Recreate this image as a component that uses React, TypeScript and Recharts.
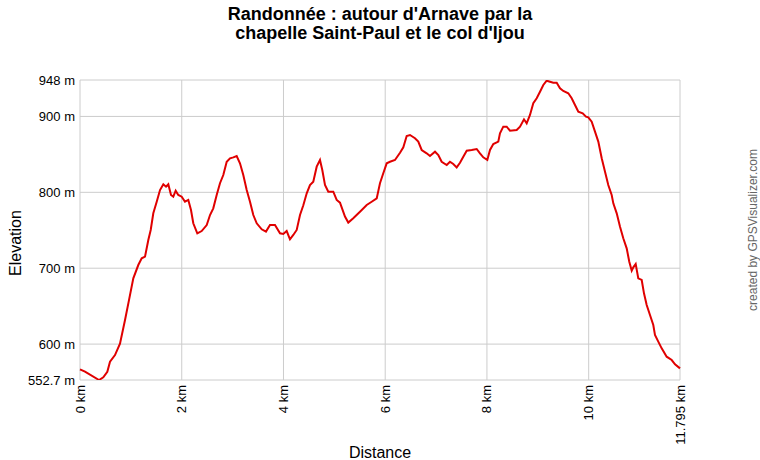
import { LineChart, Line, XAxis, YAxis, CartesianGrid } from "recharts";

// distance along the track (km) and elevation (m)
const distanceKm = [
	0, 0.098, 0.374, 0.458, 0.537, 0.59, 0.688, 0.786, 0.885, 0.963,
	1.048, 1.146, 1.213, 1.278, 1.343, 1.39, 1.441, 1.508, 1.573, 1.638,
	1.691, 1.736, 1.789, 1.834, 1.881, 1.932, 1.999, 2.064, 2.129, 2.182,
	2.227, 2.306, 2.392, 2.491, 2.556, 2.62, 2.687, 2.752, 2.817, 2.884,
	2.949, 3.014, 3.08, 3.145, 3.21, 3.277, 3.342, 3.407, 3.474, 3.572,
	3.656, 3.735, 3.833, 3.932, 3.996, 4.063, 4.128, 4.193, 4.26, 4.325,
	4.39, 4.457, 4.521, 4.586, 4.653, 4.718, 4.763, 4.816, 4.881, 4.979,
	5.046, 5.111, 5.209, 5.274, 5.372, 5.504, 5.636, 5.734, 5.833, 5.897,
	5.962, 6.029, 6.094, 6.192, 6.291, 6.356, 6.422, 6.487, 6.585, 6.65,
	6.717, 6.815, 6.88, 6.979, 7.044, 7.11, 7.209, 7.273, 7.338, 7.405,
	7.47, 7.535, 7.602, 7.7, 7.798, 7.863, 7.928, 8.007, 8.06, 8.125,
	8.223, 8.256, 8.321, 8.388, 8.453, 8.585, 8.65, 8.728, 8.781, 8.846,
	8.911, 8.978, 9.043, 9.108, 9.174, 9.239, 9.304, 9.371, 9.436, 9.501,
	9.599, 9.666, 9.731, 9.796, 9.882, 9.947, 9.992, 10.059, 10.124, 10.189,
	10.256, 10.321, 10.385, 10.452, 10.484, 10.551, 10.616, 10.68, 10.747, 10.798,
	10.846, 10.877, 10.924, 10.975, 11.042, 11.087, 11.14, 11.205, 11.27, 11.303,
	11.368, 11.435, 11.533, 11.632, 11.697, 11.795,
];

const elevationM = [
	566.8, 563.7, 552.7, 556.2, 563.6, 576.8, 585.6, 600.6, 631.7, 658,
	686.7, 704.2, 713, 715.2, 737.2, 750.4, 772.3, 787.6, 803, 810.5,
	807.4, 810.5, 796.5, 794.2, 802.1, 796.5, 794.2, 787.6, 789.9, 776.7,
	759.2, 746, 749, 756.9, 770.1, 778.9, 796.5, 812, 822.8, 840.3,
	844.8, 846.1, 847.9, 838.2, 822.8, 803, 787.6, 770.1, 759.2, 751.3,
	748.2, 756.9, 756.9, 746, 745.1, 749, 738.1, 743.8, 750.4, 770.1,
	783, 798.7, 809.6, 814, 833.8, 842.6, 829.4, 809.6, 800.8, 800.8,
	789.9, 786.4, 768, 760.1, 765.8, 774.5, 783.3, 787.6, 792, 812,
	825.1, 838.2, 840.3, 842.6, 852.2, 859.3, 874.2, 875.5, 871.2, 866.8,
	855.8, 851.4, 847.9, 853.5, 849.2, 840.3, 836, 840.3, 837.3, 832.9,
	839, 846.9, 854.9, 855.8, 857.1, 851.4, 846.1, 842.6, 855.8, 863.7,
	866.8, 877.8, 886.5, 886.5, 881.2, 882.1, 886.5, 896.2, 890.9, 901.9,
	917.3, 923.9, 932.6, 941.4, 947.1, 945.8, 944.5, 944.5, 937.1, 933.5,
	930.5, 923.9, 915.1, 906.2, 904.1, 899.7, 898.8, 893, 879.9, 866.8,
	844.8, 827.2, 809.6, 796.5, 785.5, 772.3, 754.7, 739.4, 726.2, 708.6,
	696.8, 701.2, 705.5, 686.7, 684.5, 666.9, 651.5, 638.3, 625.2, 612,
	603.2, 594.4, 583.4, 579, 573.4, 568,
];

const xTicks = [0, 2, 4, 6, 8, 10, 11.795];
const yTicks = [552.7, 600, 700, 800, 900, 948];

const data = distanceKm.map((km, i) => ({ km, ele: elevationM[i] }));

const font = "'Liberation Sans', Arial, sans-serif";

function XTick({ x, y, payload }: any) {
	return (
		<text
			x={x}
			y={y}
			transform={`rotate(-90 ${x} ${y})`}
			textAnchor="end"
			dy="0.35em"
			fontSize={13}
			fontFamily={font}
			fill="#000"
		>
			{`${payload.value} km`}
		</text>
	);
}

export default function App() {
	return (
		<div style={{ position: "absolute", left: 0, top: 0, width: 760, height: 460, background: "#fff" }}>
			<LineChart width={760} height={460} data={data} margin={{ top: 80, right: 80, bottom: 0, left: 0 }}>
				<CartesianGrid stroke="#cccccc" />
				<XAxis
					dataKey="km"
					type="number"
					domain={[0, 11.795]}
					ticks={xTicks}
					height={80}
					axisLine={false}
					tickLine={false}
					tickSize={0}
					tickMargin={5}
					tick={<XTick />}
					interval={0}
				/>
				<YAxis
					type="number"
					domain={[552.7, 948]}
					ticks={yTicks}
					width={80}
					allowDataOverflow
					axisLine={false}
					tickLine={false}
					tickSize={0}
					tickMargin={5}
					interval={0}
					tickFormatter={(v) => `${v} m`}
					tick={{ fontSize: 13, fontFamily: font, fill: "#000" }}
				/>
				<Line
					dataKey="ele"
					type="linear"
					stroke="#e00000"
					strokeWidth={2}
					dot={false}
					isAnimationActive={false}
				/>
			</LineChart>
			<svg width={760} height={460} style={{ position: "absolute", left: 0, top: 0, pointerEvents: "none" }}>
				<text x={380} y={20} textAnchor="middle" fontSize={18} fontWeight="bold" fontFamily={font}>
					Randonnée : autour d'Arnave par la
				</text>
				<text x={380} y={39} textAnchor="middle" fontSize={18} fontWeight="bold" fontFamily={font}>
					chapelle Saint-Paul et le col d'Ijou
				</text>
				<text x={380} y={458} textAnchor="middle" fontSize={16} fontFamily={font}>
					Distance
				</text>
				<text x={21} y={243} textAnchor="middle" fontSize={16} fontFamily={font} transform="rotate(-90 21 243)">
					Elevation
				</text>
				<text x={757} y={230} textAnchor="middle" fontSize={12} fontFamily={font} fill="#666" transform="rotate(-90 757 230)">
					created by GPSVisualizer.com
				</text>
			</svg>
		</div>
	);
}
